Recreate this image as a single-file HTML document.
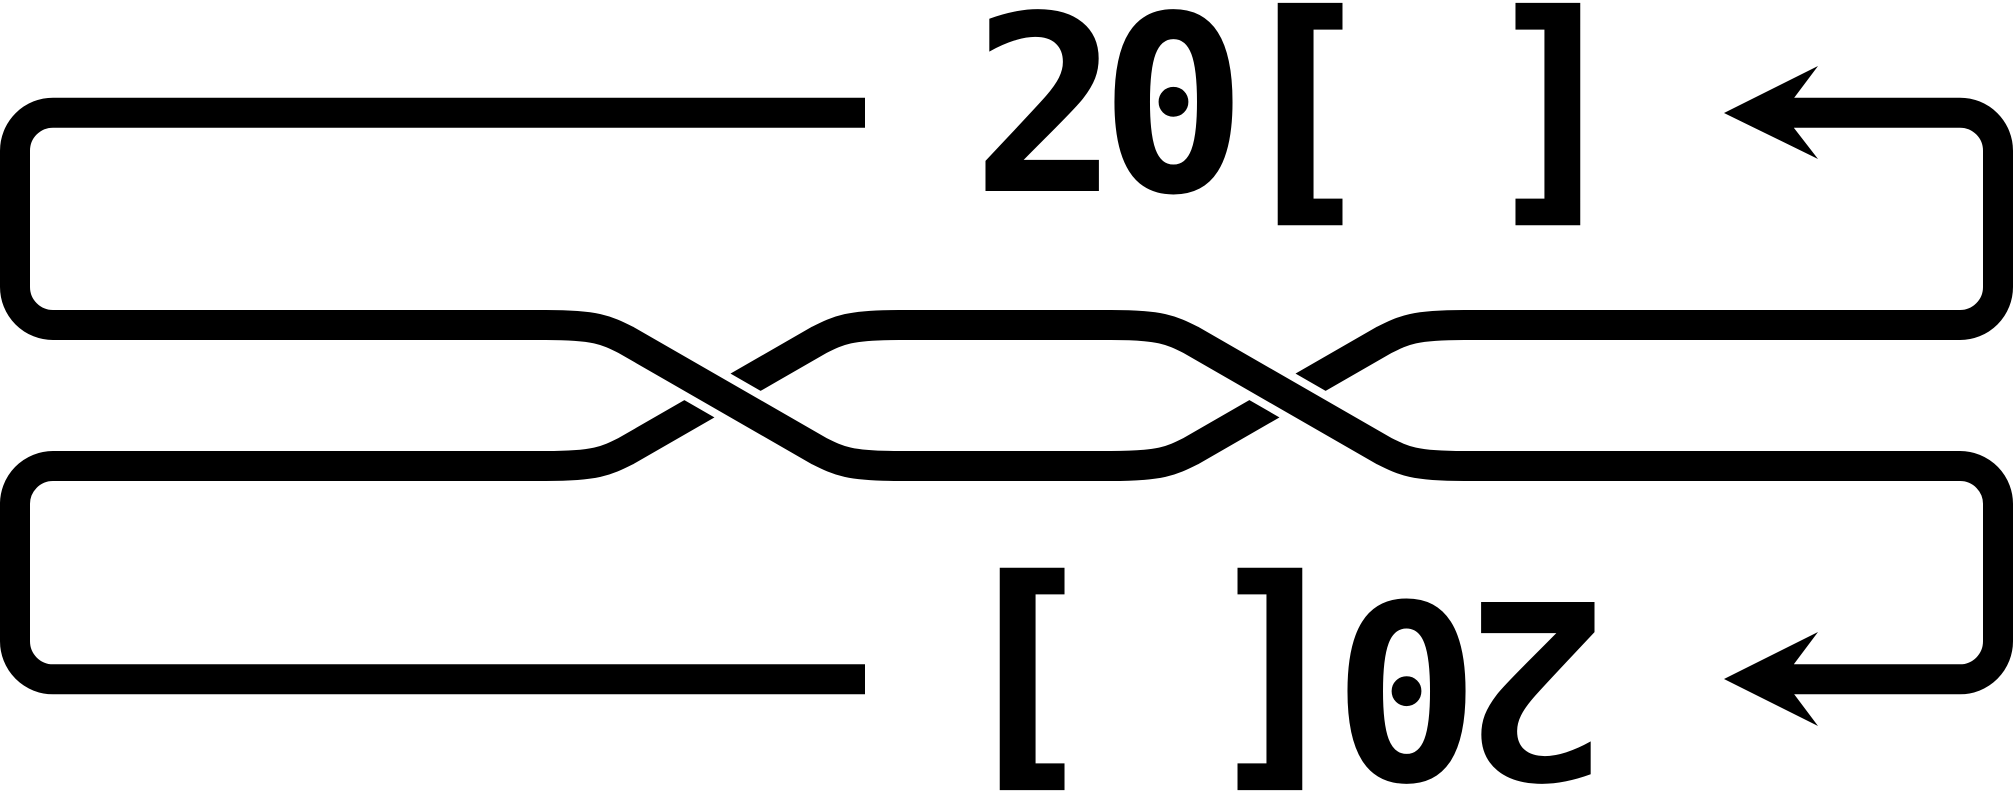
<!DOCTYPE html>
<html><head><meta charset="utf-8"><style>
html,body{margin:0;padding:0;background:#fff;width:2014px;height:792px;overflow:hidden}
svg{display:block}
text{font-family:"DejaVu Sans Mono","Liberation Mono",monospace;font-weight:bold;font-size:245px;fill:#000}
text.br{stroke:#000;stroke-width:4}
</style></head><body>
<svg width="2014" height="792" viewBox="0 0 2014 792">
<g fill="none" stroke="#000" stroke-width="30">
  <path d="M865 112.7 H53 A38 38 0 0 0 15 150.7 V287 A38 38 0 0 0 53 325 H546"/>
  <path d="M865 679.3 H53 A38 38 0 0 1 15 641.3 V505 A38 38 0 0 1 53 466 H546"/>
  <path d="M1794 112.7 H1960 A38 38 0 0 1 1998 150.7 V287 A38 38 0 0 1 1960 325 H1464"/>
  <path d="M1794 679.3 H1960 A38 38 0 0 0 1998 641.3 V505 A38 38 0 0 0 1960 466 H1464"/>
  <path d="M899 325 H1111"/>
  <path d="M899 466 H1111"/>
  <path d="M546 466 C596 466 606 461 626 451 L819 340 C839 330 849 325 899 325"/>
  <path d="M1111 466 C1161 466 1171 461 1191 451 L1384 340 C1404 330 1414 325 1464 325"/>
  <path stroke="#fff" stroke-width="46" d="M560 325 C596 325 606 330 626 340 L819 451 C839 461 849 466 885 466"/>
  <path d="M546 325 C596 325 606 330 626 340 L819 451 C839 461 849 466 899 466"/>
  <path stroke="#fff" stroke-width="46" d="M1125 325 C1161 325 1171 330 1191 340 L1384 451 C1404 461 1414 466 1450 466"/>
  <path d="M1111 325 C1161 325 1171 330 1191 340 L1384 451 C1404 461 1414 466 1464 466"/>
</g>
<polygon fill="#000" points="1724,113 1818,66 1794,98 1794,128 1818,159"/>
<polygon fill="#000" points="1724,679 1818,632 1794,664 1794,694 1818,726"/>
<g>
  <text x="1045.5" y="191" text-anchor="middle">2</text>
  <text x="1173.5" y="191" text-anchor="middle">0</text>
  <text class="br" x="1303" y="191" text-anchor="middle">[</text>
  <text class="br" x="1555" y="191" text-anchor="middle">]</text>
</g>
<g transform="rotate(180 1290 396.5)">
  <text x="1045.5" y="191" text-anchor="middle">2</text>
  <text x="1173.5" y="191" text-anchor="middle">0</text>
  <text class="br" x="1303" y="191" text-anchor="middle">[</text>
  <text class="br" x="1555" y="191" text-anchor="middle">]</text>
</g>
</svg>
</body></html>
